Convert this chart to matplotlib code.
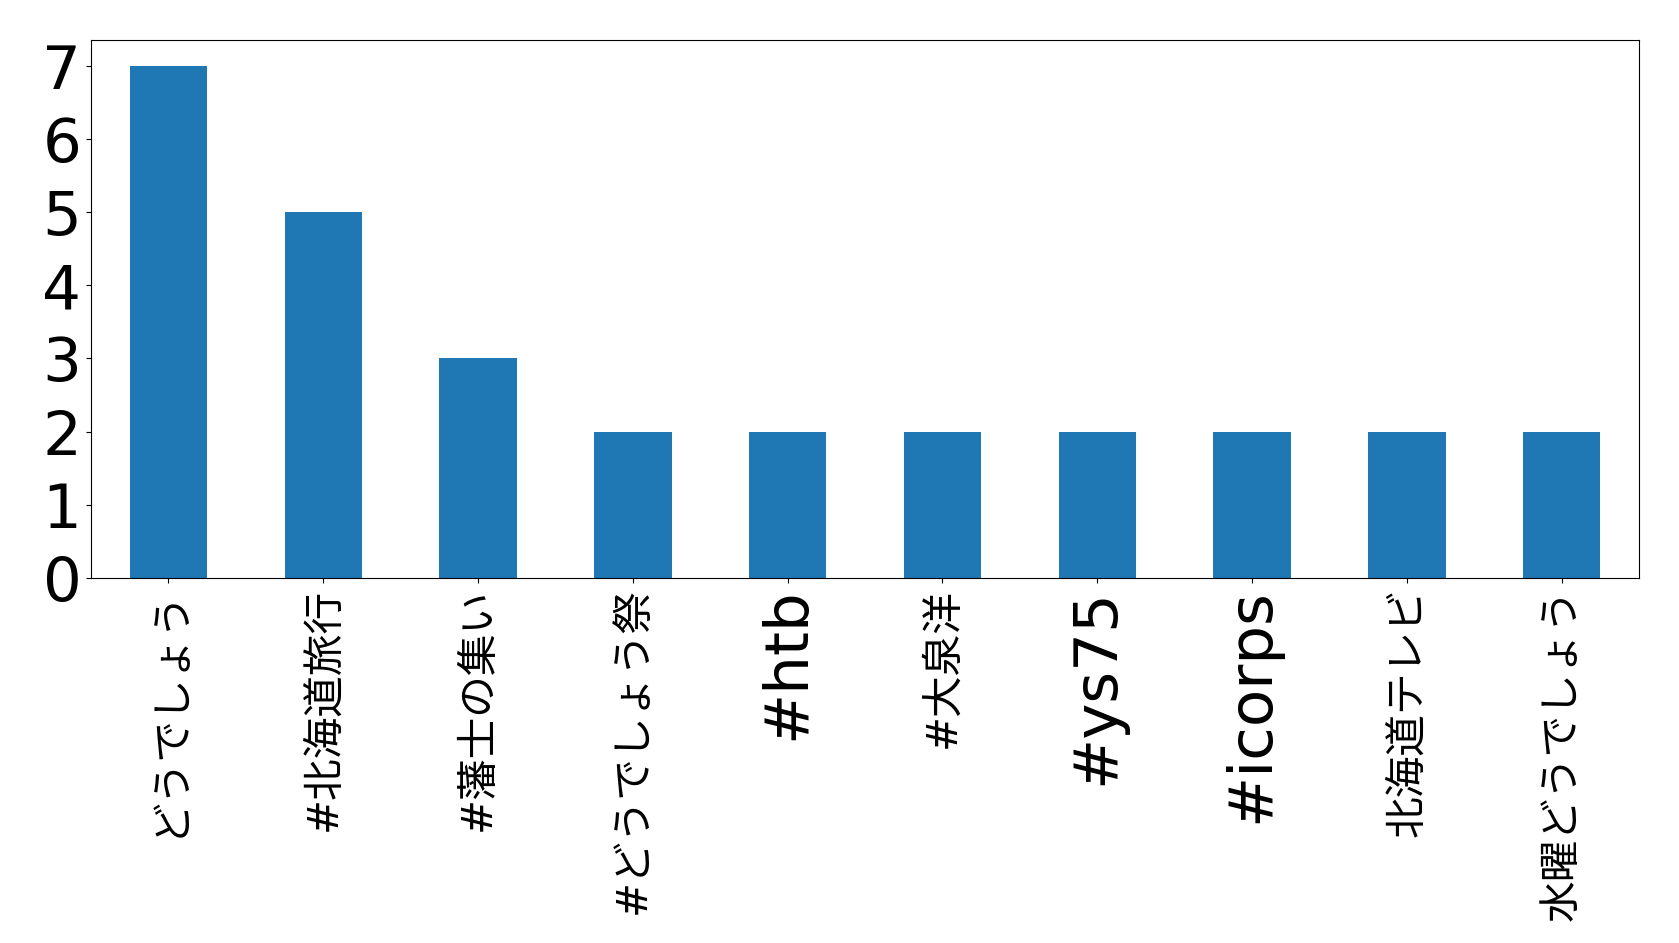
import matplotlib
matplotlib.use("Agg")
import matplotlib.pyplot as plt

categories = ["どうでしょう", "#北海道旅行", "#藩士の集い", "#どうでしょう祭", "#htb",
              "#大泉洋", "#ys75", "#icorps", "北海道テレビ", "水曜どうでしょう"]
counts = [7, 5, 3, 2, 2, 2, 2, 2, 2, 2]

plt.rcParams['font.family'] = ['DejaVu Sans', 'Noto Sans CJK JP']

W, H = 1679, 943
fig = plt.figure(figsize=(W / 100, H / 100), dpi=100)
ax = fig.add_axes([91 / W, 1 - 578 / H, 1548 / W, (578 - 40) / H])

x = list(range(len(categories)))
ax.bar(x, counts, width=0.5, color="#1f77b4")
ax.set_xlim(-0.5, len(categories) - 0.5)
ax.set_ylim(0, 7.35)
ax.set_xticks(x)
ax.set_xticklabels(categories, rotation=90)
ax.set_yticks(range(0, 8))
ax.tick_params(axis='both', labelsize=44)

# Labels with CJK text are set smaller so they fit below the axes like the reference
for lbl in ax.get_xticklabels():
    if any(ord(c) > 0x2E80 for c in lbl.get_text()):
        lbl.set_fontsize(30)

fig.savefig("out.png", dpi=100)
